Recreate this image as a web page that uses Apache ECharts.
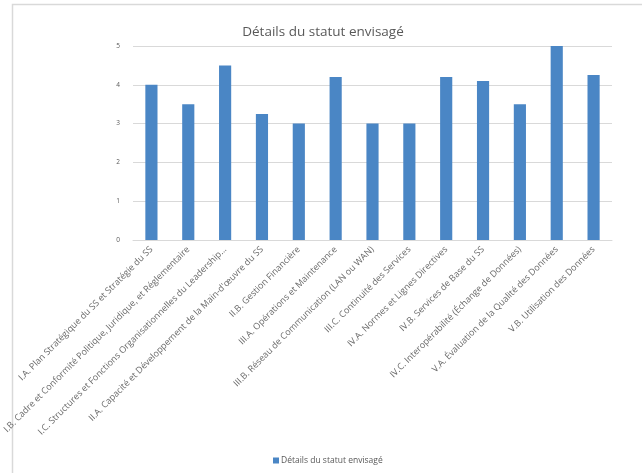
<!DOCTYPE html>
<html><head><meta charset="utf-8">
<script src="https://cdn.jsdelivr.net/npm/echarts@6/dist/echarts.min.js"></script>
<style>html,body{margin:0;padding:0;background:#fff}#c{width:642px;height:473px}</style>
</head><body><div id="c"></div>
<script>
const categories = [
  "I.A. Plan Stratégique du SS et Stratégie du SS",
  "I.B. Cadre et Conformité Politique, Juridique, et Réglementaire",
  "I.C. Structures et Fonctions Organisationnelles du Leadership…",
  "II.A. Capacité et Développement de la Main-d'œuvre du SS",
  "II.B. Gestion Financière",
  "III.A. Opérations et Maintenance",
  "III.B. Réseau de Communication (LAN ou WAN)",
  "III.C. Continuité des Services",
  "IV.A. Normes et Lignes Directives",
  "IV.B. Services de Base du SS",
  "IV.C. Interopérabilité (Échange de Données)",
  "V.A. Évaluation de la Qualité des Données",
  "V.B. Utilisation des Données"
];
const values = [4, 3.5, 4.5, 3.25, 3, 4.2, 3, 3, 4.2, 4.1, 3.5, 5, 4.25];
const seriesName = "Détails du statut envisagé";
const titleText = "Détails du statut envisagé";

const chart = echarts.init(document.getElementById('c'));
chart.setOption({
  animation: false,
  textStyle: {fontFamily: 'Open Sans'},
  graphic: [{type:'rect', shape:{x:12.5,y:4.5,width:700,height:520}, style:{fill:'none', stroke:'#d9d9d9', lineWidth:1.5}, silent:true, z:-1}],
  title: {text: titleText, left: 318, top: 20, textAlign:'center',
    textStyle:{fontSize:13.5, fontWeight:'normal', color:'#595959', fontFamily:'Open Sans'}},
  legend: {data:[seriesName], left: 268, top: 451, itemWidth:6, itemHeight:6, itemGap:3,
    icon:'rect', textStyle:{fontSize:8.5, color:'#595959', padding:[0,0,0,-3]}},
  grid: {left:133, right:30, top:46, bottom:233, containLabel:false},
  xAxis: {type:'category', data: categories,
    axisLine:{lineStyle:{color:'#d9d9d9', width:1}},
    axisTick:{show:false},
    axisLabel:{rotate:45, interval:0, fontSize:9, color:'#6a6a6a', margin:8, fontFamily:'Open Sans'}},
  yAxis: {type:'value', min:0, max:5, interval:1,
    axisLine:{show:false}, axisTick:{show:false},
    splitLine:{lineStyle:{color:'#d9d9d9', width:1}},
    axisLabel:{fontSize:6.5, color:'#595959', margin:13}},
  series: [{name: seriesName, type:'bar', data: values, barWidth:'33%',
    itemStyle:{color:'#4a86c5'}}]
});
</script></body></html>
